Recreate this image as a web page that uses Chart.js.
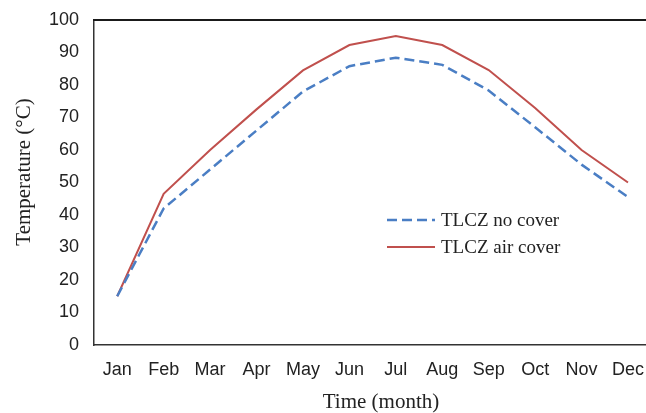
<!DOCTYPE html>
<html>
<head>
<meta charset="utf-8">
<script src="https://cdn.jsdelivr.net/npm/chart.js@4/dist/chart.umd.min.js"></script>
<style>
  html, body { margin: 0; padding: 0; background: #fff; overflow: hidden; width: 646px; height: 413px; }
  #wrap { width: 658px; height: 413px; }
</style>
</head>
<body>
<div id="wrap"><canvas id="c" width="658" height="413"></canvas></div>
<script>
const months = ['Jan','Feb','Mar','Apr','May','Jun','Jul','Aug','Sep','Oct','Nov','Dec'];
const noCover = [15, 42, 54, 66, 78, 85.8, 88.4, 86.2, 78.3, 67, 55.5, 45.5];
const airCover = [15, 46.5, 60, 72.5, 84.5, 92.3, 95.1, 92.3, 84.6, 72.9, 60, 50];
const yTicks = [0, 10, 20, 30, 40, 50, 60, 70, 80, 90, 100];
const seriesNames = ['TLCZ no cover', 'TLCZ air cover'];
const xTitle = 'Time (month)';
const yTitle = 'Temperature (°C)';

const frameLegendTitles = {
  id: 'frameLegendTitles',
  afterDraw(chart) {
    const ctx = chart.ctx;
    const a = chart.chartArea;
    ctx.save();
    // top frame line
    ctx.strokeStyle = '#1a1a1a';
    ctx.lineWidth = 2;
    ctx.beginPath();
    ctx.moveTo(a.left - 1, a.top);
    ctx.lineTo(a.right, a.top);
    ctx.stroke();
    // legend
    const lx = a.left + 293, ly = 220, gap = 27;
    chart.data.datasets.forEach((ds, i) => {
      const y = ly + i * gap;
      ctx.strokeStyle = ds.borderColor;
      ctx.lineWidth = ds.borderWidth;
      ctx.setLineDash(ds.borderDash || []);
      ctx.beginPath();
      ctx.moveTo(lx, y);
      ctx.lineTo(lx + 48, y);
      ctx.stroke();
      ctx.setLineDash([]);
      ctx.fillStyle = '#222';
      ctx.font = '19px "Liberation Serif", "Times New Roman", serif';
      ctx.textBaseline = 'middle';
      ctx.textAlign = 'left';
      ctx.fillText(ds.label, lx + 54, y + 1);
    });
    // axis titles
    ctx.fillStyle = '#222';
    ctx.font = '21px "Liberation Serif", "Times New Roman", serif';
    ctx.textAlign = 'center';
    ctx.textBaseline = 'middle';
    ctx.fillText(xTitle, 381, 402);
    ctx.translate(24, 172);
    ctx.rotate(-Math.PI / 2);
    ctx.fillText(yTitle, 0, 0);
    ctx.restore();
  }
};

new Chart(document.getElementById('c'), {
  type: 'line',
  data: {
    labels: months,
    datasets: [
      { label: seriesNames[0], data: noCover, borderColor: '#4A7EC4', borderWidth: 2.5, borderDash: [10, 5], pointRadius: 0, tension: 0, fill: false },
      { label: seriesNames[1], data: airCover, borderColor: '#C0504D', borderWidth: 2, pointRadius: 0, tension: 0, fill: false }
    ]
  },
  options: {
    responsive: false,
    animation: false,
    devicePixelRatio: 1,
    layout: { padding: { left: 0, right: 0, top: 20, bottom: 0 } },
    plugins: { legend: { display: false }, tooltip: { enabled: false } },
    scales: {
      x: {
        type: 'category',
        offset: true,
        grid: { display: false, drawTicks: false },
        border: { display: true, color: '#333', width: 1.5 },
        ticks: { color: '#222', font: { family: '"Liberation Sans", Arial, sans-serif', size: 18 }, padding: 14, maxRotation: 0, autoSkip: false },
        title: { display: false },
        afterFit(scale) { scale.height = 68; }
      },
      y: {
        min: 0, max: 100,
        afterBuildTicks(scale) { scale.ticks = yTicks.map(v => ({ value: v })); },
        grid: { display: false, drawTicks: false },
        border: { display: true, color: '#333', width: 1.5 },
        ticks: { color: '#222', font: { family: '"Liberation Sans", Arial, sans-serif', size: 18, lineHeight: 0.5 }, padding: 15 },
        title: { display: false },
        afterFit(scale) { scale.width = 94; }
      }
    }
  },
  plugins: [frameLegendTitles]
});
</script>
</body>
</html>
